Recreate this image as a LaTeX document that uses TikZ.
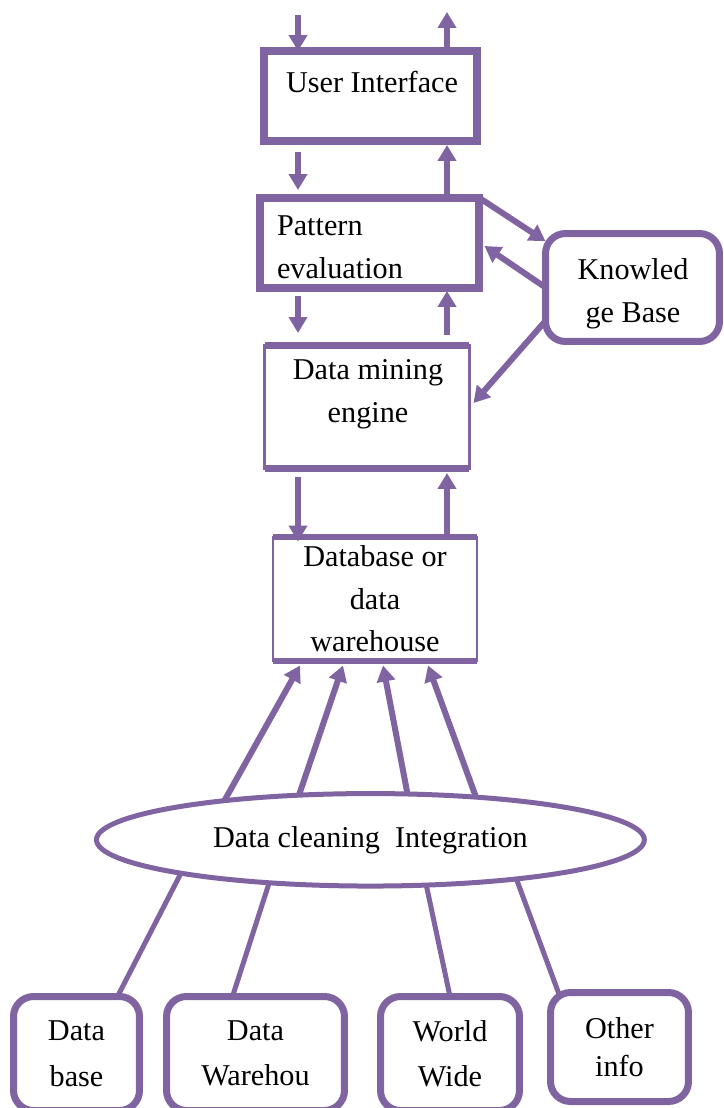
\documentclass[tikz,border=0pt]{standalone}
\usepackage{fontspec}
\setmainfont{Liberation Serif}
\usetikzlibrary{arrows.meta, shapes.geometric, calc}

\definecolor{kdd}{HTML}{8064A2}

\begin{document}
\begin{tikzpicture}[x=0.02cm, y=-0.02cm,
    font=\fontsize{17.2}{24.2}\selectfont,
    box/.style={draw=kdd, line width=0.15cm, inner sep=0pt, outer sep=0pt},
    rbox/.style={draw=kdd, line width=0.14cm, rounded corners=0.4cm, inner sep=0pt, outer sep=0pt, align=center},
    flow/.style={kdd, line width=0.12cm, -{Triangle[width=0.36cm, length=0.32cm]}},
    feed/.style={kdd, line width=0.1cm}]
	\useasboundingbox (0,0) rectangle (723,1108);

	% free ends of the two columns at the top
	\coordinate (in-top) at (298,15);
	\coordinate (out-top) at (447,12);

	% the stack
	\node[box, minimum width=4.26cm, minimum height=1.8cm] (ui) at (370.5,96) {};
	\node (ui-t) at (372,82) {User Interface};

	\node[box, line width=0.16cm, minimum width=4.4cm, minimum height=1.8cm] (pe) at (369.5,243) {};
	\node[text width=3.7cm, align=left] (pe-t) at (369.5,247) {Pattern\\evaluation};

	\node[box, line width=0.06cm, minimum width=4.1cm, minimum height=2.48cm] (dm) at (367,407) {};
	\node[align=center] (dm-t) at (368,394) {Data mining\\engine};
	\draw[kdd, line width=0.14cm] (dm.north west) -- (dm.north east) (dm.south west) -- (dm.south east);

	\node[box, line width=0.04cm, minimum width=4.08cm, minimum height=2.5cm, align=center] (db) at (375,599) {Database or\\data\\warehouse};
	\draw[kdd, line width=0.12cm] (db.north west) -- (db.north east) (db.south west) -- (db.south east);

	% knowledge base on the side
	\node[rbox, minimum width=3.48cm, minimum height=2.16cm] (kb) at (632.5,287.5) {};
	\node[align=center] (kb-t) at (633,294) {Knowled\\ge Base};

	% cleaning / integration
	\node[ellipse, draw=kdd, line width=0.1cm, inner sep=0pt, outer sep=0pt,
	      minimum width=10.96cm, minimum height=1.85cm] (clean) at (370.4,839.8) {Data cleaning\ \ Integration};

	% sources
	\node[rbox, minimum width=2.52cm, minimum height=2.28cm] (base) at (76.5,1053.5) {Data\\[0.06cm]base};
	\node[rbox, minimum width=3.56cm, minimum height=2.28cm] (wh) at (255.5,1053.5) {Data\\[0.06cm]Warehou};
	\node[rbox, minimum width=2.78cm, minimum height=2.28cm] (www) at (450,1053.5) {World\\[0.06cm]Wide};
	\node[rbox, minimum width=2.76cm, minimum height=2.18cm] (other) at (619.5,1047) {Other\\[-0.1cm]info};

	% down and up the stack
	\draw[flow] (in-top) -- (in-top |- ui.north);
	\draw[flow] (ui.north -| out-top) -- (out-top);
	\draw[flow, shorten <=0.22cm, shorten >=0.16cm] (ui.south -| in-top) -- (pe.north -| in-top);
	\draw[flow, shorten >=0.08cm] (pe.north -| out-top) -- (ui.south -| out-top);
	\draw[flow, shorten <=0.16cm, shorten >=0.24cm] (pe.south -| in-top) -- (dm.north -| in-top);
	\draw[flow, shorten <=0.2cm, shorten >=0.06cm] (dm.north -| out-top) -- (pe.south -| out-top);
	\draw[flow, shorten <=0.16cm, shorten >=-0.1cm] (dm.south -| in-top) -- (db.north -| in-top);
	\draw[flow, shorten >=0.08cm] (db.north -| out-top) -- (dm.south -| out-top);

	% knowledge base links
	\draw[flow] (pe.north east) -- (kb.152);
	\draw[flow] (kb.west) -- ($(pe.east)+(5,3)$);
	\draw[flow] (kb.201) -- ($(dm.east)+(4,-4)$);

	% cleaned data into the warehouse
	\draw[flow] (clean.165) -- ($(db.south)+(-75,4)$);
	\draw[flow] (clean.148) -- ($(db.south)+(-32,4)$);
	\draw[flow] (clean.51) -- ($(db.south)+(8,4)$);
	\draw[flow] (clean.22) -- ($(db.south)+(53,4)$);

	% sources feeding the cleaning step
	\draw[feed] (clean.190) -- ($(base.north)+(41,0)$);
	\draw[feed] (clean.203) -- ($(wh.north)+(-23,0)$);
	\draw[feed] (clean.321) -- (www.north);
	\draw[feed] (clean.345) -- ($(other.north)+(-60,3)$);
\end{tikzpicture}
\end{document}
